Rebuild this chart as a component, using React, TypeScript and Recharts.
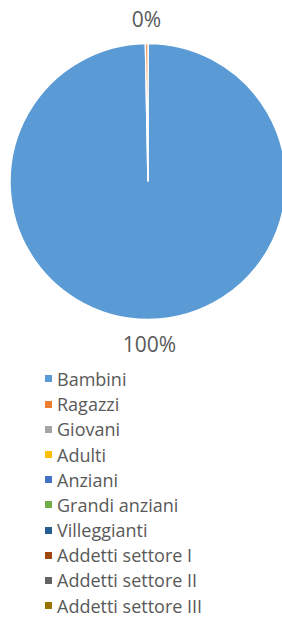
import React from "react";
import { PieChart, Pie, Cell, Legend } from "recharts";

const categories = [
  "Bambini",
  "Ragazzi",
  "Giovani",
  "Adulti",
  "Anziani",
  "Grandi anziani",
  "Villeggianti",
  "Addetti settore I",
  "Addetti settore II",
  "Addetti settore III",
];
const values = [99.7, 0.3, 0, 0, 0, 0, 0, 0, 0, 0];
const colors = [
  "#5B9BD5",
  "#ED7D31",
  "#A5A5A5",
  "#FFC000",
  "#4472C4",
  "#70AD47",
  "#255E91",
  "#9E480E",
  "#636363",
  "#997300",
];

const data = categories.map((name, i) => ({ name, value: values[i] }));

const FONT = "'Open Sans', 'Noto Sans', sans-serif";

const RADIAN = Math.PI / 180;
const renderLabel = (props: any) => {
  const { cx, cy, midAngle, outerRadius, percent, value } = props;
  if (!value) return null;
  const r = outerRadius + 25;
  const x = cx + r * Math.cos(-midAngle * RADIAN);
  const y = cy + r * Math.sin(-midAngle * RADIAN);
  return (
    <text
      x={x}
      y={y}
      textAnchor="middle"
      dominantBaseline="central"
      fill="#595959"
      fontSize={21}
      fontFamily={FONT}
    >
      {Math.round(percent * 100) + "%"}
    </text>
  );
};

const renderLegend = (props: any) => {
  const payload: any[] = [...(props.payload || [])].sort(
    (a: any, b: any) => categories.indexOf(a.value) - categories.indexOf(b.value)
  );
  return (
    <div style={{ fontFamily: FONT, fontSize: 18, color: "#595959" }}>
      {payload.map((entry: any, i: number) => (
        <div
          key={i}
          style={{
            display: "flex",
            alignItems: "center",
            height: 25.2,
            whiteSpace: "nowrap",
            lineHeight: "18px",
          }}
        >
          <span
            style={{
              display: "inline-block",
              width: 7,
              height: 7,
              background: entry.color,
              marginRight: 5,
            }}
          />
          <span style={{ lineHeight: "18px" }}>{entry.value}</span>
        </div>
      ))}
    </div>
  );
};

export default function App() {
  return (
    <div style={{ position: "absolute", left: 0, top: 0 }}>
      <PieChart width={282} height={617} margin={{ top: 0, right: 0, bottom: 0, left: 0 }}>
        <Pie
          data={data}
          dataKey="value"
          nameKey="name"
          cx={148}
          cy={181.5}
          outerRadius={138}
          startAngle={90}
          endAngle={-270}
          stroke="#FFFFFF"
          strokeWidth={1.5}
          label={renderLabel}
          labelLine={false}
          isAnimationActive={false}
        >
          {data.map((d, i) => (
            <Cell key={d.name} fill={colors[i]} />
          ))}
        </Pie>
        <Legend
          layout="vertical"
          content={renderLegend}
          itemSorter={null as any}
          payload={data.map((d, i) => ({ value: d.name, type: "square", color: colors[i] }))}
          wrapperStyle={{ position: "absolute", left: 45, top: 366.4, width: 237, height: 250 }}
        />
      </PieChart>
    </div>
  );
}
